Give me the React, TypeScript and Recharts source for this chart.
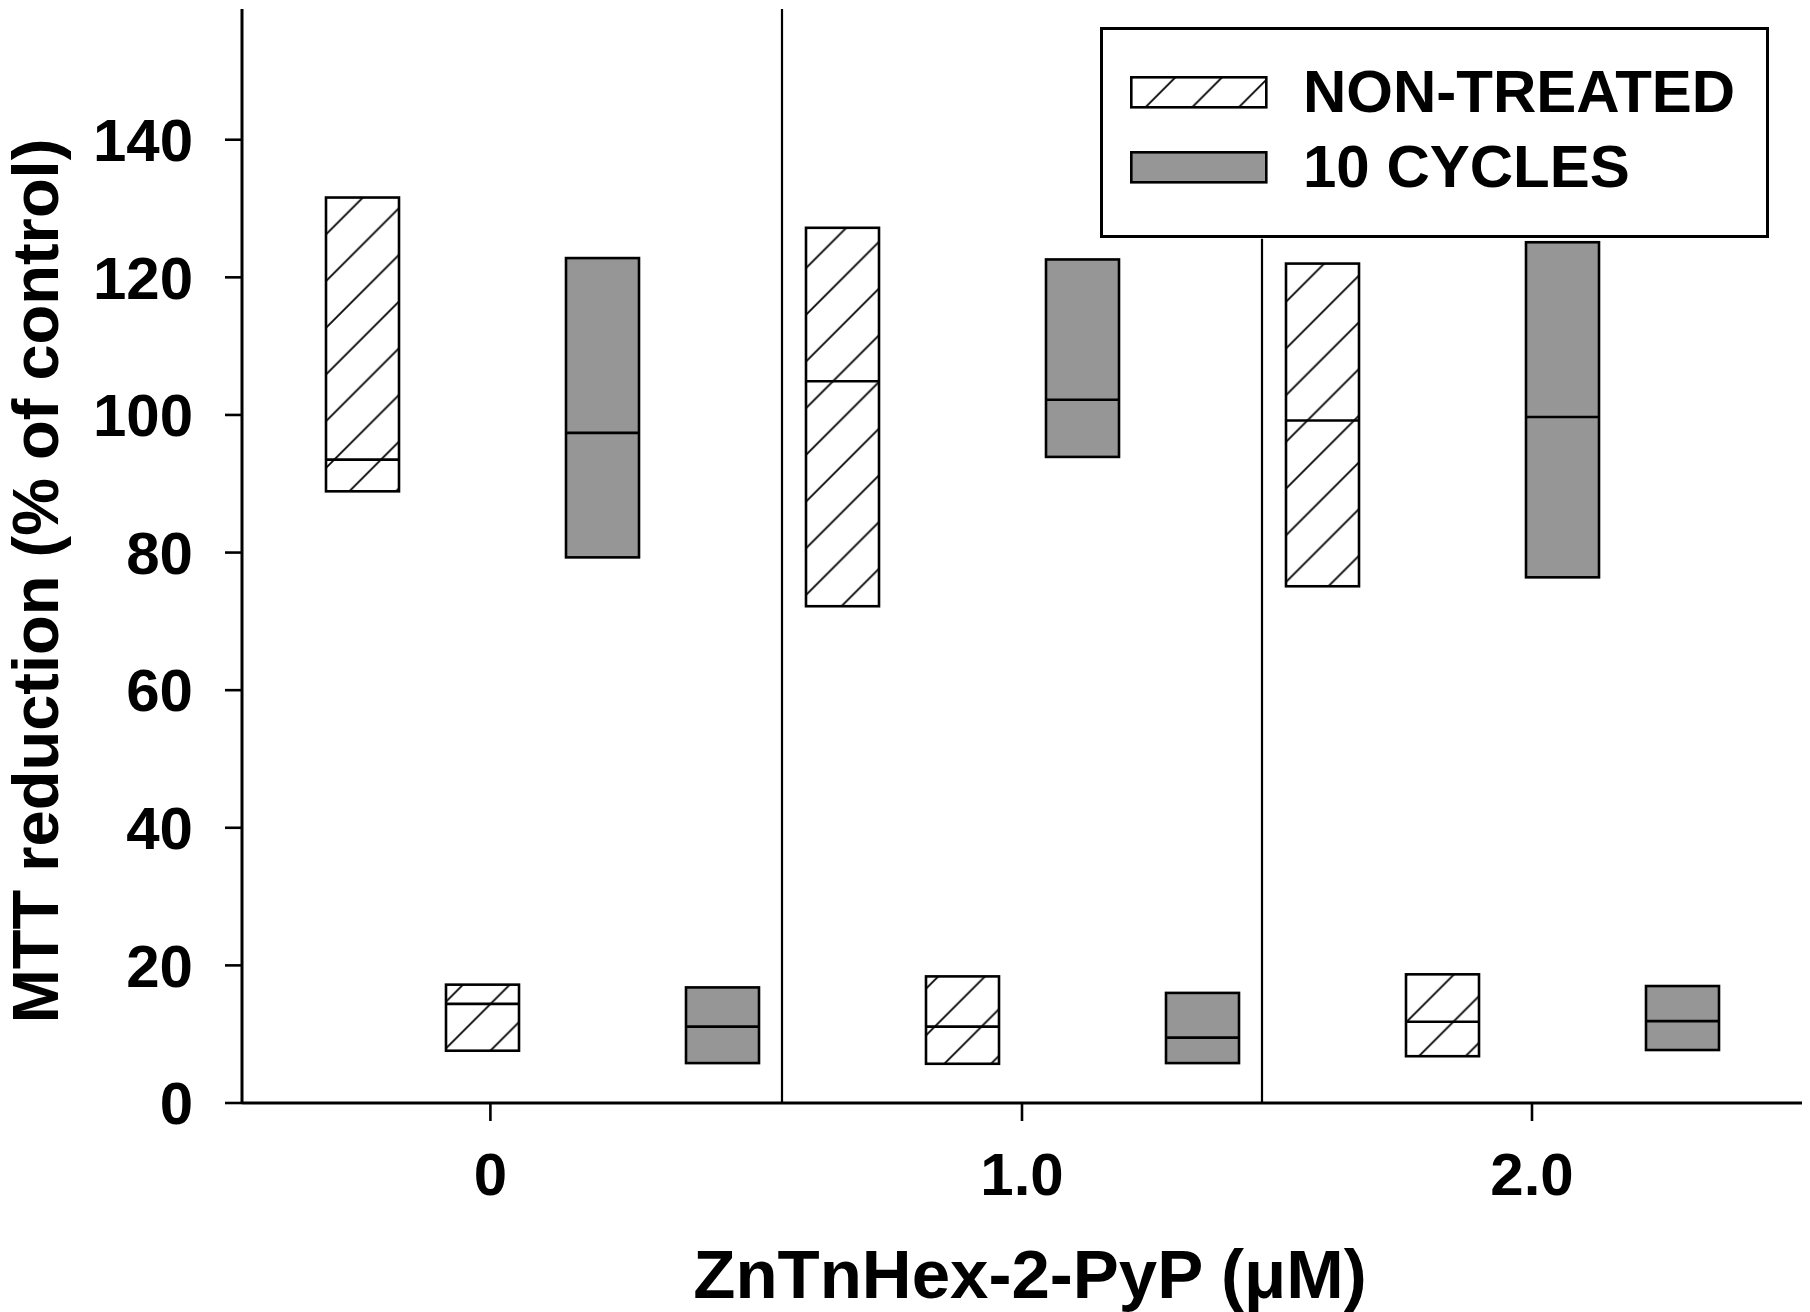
import React from "react";
import { Bar, ComposedChart, Label, Legend, ReferenceLine, XAxis, YAxis } from "recharts";

// MTT reduction boxes, [q1, median, q3] per concentration
const concentrations = ["0", "1.0", "2.0"];
const nonTreatedUpper = [[88.9, 93.5, 131.6], [72.2, 104.9, 127.2], [75.1, 99.2, 122.0]];
const nonTreatedLower = [[7.6, 14.4, 17.2], [5.7, 11.1, 18.4], [6.8, 11.8, 18.7]];
const cyclesUpper = [[79.3, 97.4, 122.8], [93.9, 102.2, 122.6], [76.4, 99.7, 125.1]];
const cyclesLower = [[5.8, 11.1, 16.8], [5.8, 9.5, 16.0], [7.7, 11.9, 17.0]];
const yTicks = [0, 20, 40, 60, 80, 100, 120, 140];
const seriesNames = ["NON-TREATED", "10 CYCLES"];

// where the concentration labels and group dividers sit on the slot axis
const concentrationTicks = [2.07, 6.5, 10.75];
const dividers = [4.5, 8.5];
// the second divider stops under the legend box
const dividerTops = [159, 125.6];

const FONT = '"Liberation Sans", Arial, Helvetica, sans-serif';
const GRAY = "#969696";

const rows = concentrations.flatMap((c, i) => [
  { pos: 4 * i + 1, nonTreated: [nonTreatedUpper[i][0], nonTreatedUpper[i][2]], median: nonTreatedUpper[i][1] },
  { pos: 4 * i + 2, nonTreated: [nonTreatedLower[i][0], nonTreatedLower[i][2]], median: nonTreatedLower[i][1] },
  { pos: 4 * i + 3, cycles: [cyclesUpper[i][0], cyclesUpper[i][2]], median: cyclesUpper[i][1] },
  { pos: 4 * i + 4, cycles: [cyclesLower[i][0], cyclesLower[i][2]], median: cyclesLower[i][1] },
]);

const makeBox = (key: string) => (props: any) => {
  const { x, y, width, height, payload, fill } = props;
  const range = payload && payload[key];
  if (!range || !isFinite(y) || !isFinite(height)) return <g />;
  const top = Math.min(y, y + height);
  const h = Math.abs(height);
  const my = top + (h * (range[1] - payload.median)) / (range[1] - range[0]);
  return (
    <g>
      <rect x={x} y={top} width={width} height={h} fill={fill} stroke="#000" strokeWidth={2.6} />
      <line x1={x} x2={x + width} y1={my} y2={my} stroke="#000" strokeWidth={2.6} />
    </g>
  );
};

const renderLegend = (props: any) => {
  const items = [...(props.payload || [])].sort(
    (a: any, b: any) => seriesNames.indexOf(a.value) - seriesNames.indexOf(b.value)
  );
  return (
    <div
      style={{
        width: 669,
        height: 211,
        boxSizing: "border-box",
        border: "3px solid #000",
        background: "#fff",
        position: "relative",
        fontFamily: FONT,
        fontWeight: "bold",
      }}
    >
      {items.map((item: any, i: number) => (
        <div key={item.value} style={{ position: "absolute", left: 0, top: 0 }}>
          <svg
            width={138}
            height={33}
            style={{ position: "absolute", left: 27, top: 46 + i * 75 }}
          >
            <rect x={1.3} y={1.3} width={135} height={30} fill={item.color} stroke="#000" strokeWidth={2.6} />
          </svg>
          <div
            style={{
              position: "absolute",
              left: 200,
              top: 32 + i * 75,
              height: 60,
              lineHeight: "60px",
              fontSize: 60,
              whiteSpace: "nowrap",
              color: "#000",
            }}
          >
            {item.value}
          </div>
        </div>
      ))}
    </div>
  );
};

const tickStyle = { fontSize: 60, fontWeight: "bold", fill: "#000", fontFamily: FONT };

export default function App() {
  return (
    <div style={{ position: "absolute", left: 0, top: 0, width: 1810, height: 1312, background: "#fff" }}>
      <ComposedChart width={1810} height={1312} data={rows} margin={{ top: 9, right: 8, bottom: 0, left: 0 }}>
        <defs>
          <pattern id="hatch" patternUnits="userSpaceOnUse" width={46.7} height={46.7}>
            <path
              d="M0,46.7 L46.7,0 M-6,6 L6,-6 M40.7,52.7 L52.7,40.7"
              stroke="#000"
              strokeWidth={1.8}
            />
          </pattern>
        </defs>
        <XAxis
          dataKey="pos"
          type="number"
          domain={[0, 13]}
          ticks={concentrationTicks}
          interval={0}
          tickFormatter={(v: number) => concentrations[concentrationTicks.indexOf(v)]}
          height={209}
          tick={tickStyle}
          tickSize={18}
          tickMargin={31}
          axisLine={{ stroke: "#000", strokeWidth: 3 }}
          tickLine={{ stroke: "#000", strokeWidth: 2.6 }}
        >
          <Label
            content={(p: any) => {
              const vb = p.viewBox || { x: 242, y: 1103, width: 1560 };
              return (
                <text
                  x={vb.x + vb.width / 2 + 8}
                  y={vb.y + 195}
                  textAnchor="middle"
                  fontSize={69}
                  fontWeight="bold"
                  fontFamily={FONT}
                  fill="#000"
                >
                  ZnTnHex-2-PyP (μM)
                </text>
              );
            }}
          />
        </XAxis>
        <XAxis
          xAxisId="top"
          dataKey="pos"
          type="number"
          orientation="top"
          domain={[0, 13]}
          height={0}
          tick={false}
          tickLine={false}
          axisLine={{ stroke: "#000", strokeWidth: 3 }}
        />
        <YAxis
          type="number"
          domain={[0, 159]}
          ticks={yTicks}
          interval={0}
          width={242}
          allowDataOverflow
          tick={tickStyle}
          tickSize={17}
          tickMargin={32}
          axisLine={{ stroke: "#000", strokeWidth: 3 }}
          tickLine={{ stroke: "#000", strokeWidth: 2.6 }}
        >
          <Label
            content={(p: any) => {
              const vb = p.viewBox || { x: 0, y: 9, height: 1094 };
              const cx = vb.x + 58;
              const cy = vb.y + vb.height / 2 + 25;
              return (
                <text
                  x={cx}
                  y={cy}
                  transform={`rotate(-90, ${cx}, ${cy})`}
                  textAnchor="middle"
                  fontSize={65}
                  fontWeight="bold"
                  fontFamily={FONT}
                  fill="#000"
                >
                  MTT reduction (% of control)
                </text>
              );
            }}
          />
        </YAxis>
        <YAxis
          yAxisId="right"
          orientation="right"
          type="number"
          domain={[0, 159]}
          width={0}
          tick={false}
          tickLine={false}
          axisLine={{ stroke: "#000", strokeWidth: 3 }}
        />
        {dividers.map((d, i) => (
          <ReferenceLine
            key={d}
            segment={[
              { x: d, y: 0 },
              { x: d, y: dividerTops[i] },
            ]}
            stroke="#000"
            strokeWidth={2.2}
            ifOverflow="visible"
          />
        ))}
        <Bar
          dataKey="nonTreated"
          name={seriesNames[0]}
          fill="url(#hatch)"
          barSize={73}
          shape={makeBox("nonTreated")}
          isAnimationActive={false}
        />
        <Bar
          dataKey="cycles"
          name={seriesNames[1]}
          xAxisId="top"
          fill={GRAY}
          barSize={73}
          shape={makeBox("cycles")}
          isAnimationActive={false}
        />
        <Legend
          layout="horizontal"
          align="center"
          verticalAlign="middle"
          content={renderLegend}
          wrapperStyle={{ left: 1100, top: 27, width: 669, height: 211 }}
        />
      </ComposedChart>
    </div>
  );
}
